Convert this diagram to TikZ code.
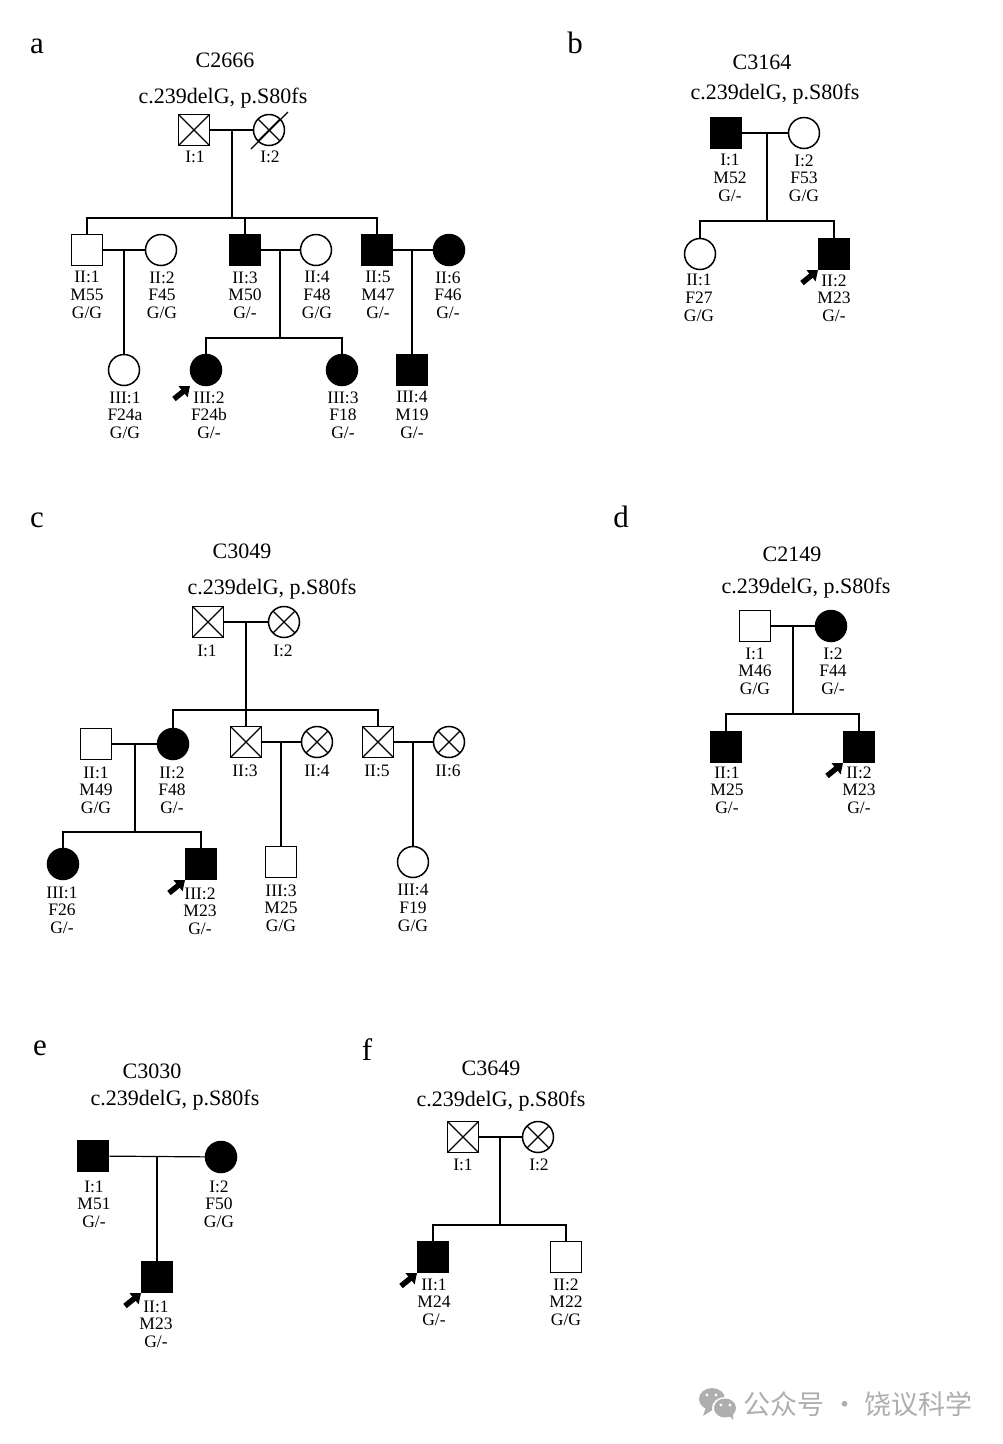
\documentclass[tikz,border=0pt]{standalone}
\usepackage{fontspec}
\setmainfont{Liberation Serif}
\newfontfamily\cjk{Noto Sans CJK SC}
\usepackage{xcolor}
\usepackage{tikz}
\usetikzlibrary{arrows.meta}
\definecolor{markgray}{HTML}{AEAEAE}
\tikzset{
  male/.style={draw,rectangle,line width=1.8pt,minimum size=31pt,inner sep=0pt},
  female/.style={draw,circle,line width=1.5pt,minimum size=31pt,inner sep=0pt},
  maleA/.style={male,fill=black},
  femaleA/.style={female,fill=black},
  crossed/.style={path picture={
    \draw[line width=1.1pt] (path picture bounding box.north west) -- (path picture bounding box.south east);
    \draw[line width=1.1pt] (path picture bounding box.south west) -- (path picture bounding box.north east);}},
  maleX/.style={male,crossed},
  femaleX/.style={female,crossed},
  link/.style={line width=1.2pt},
  proband/.style={-{Triangle[length=9pt,width=14pt]},line width=5.5pt},
  lbl/.style={align=center,inner sep=0pt,font=\fontsize{17.5}{17.7}\selectfont},
  ttl/.style={inner sep=0pt,font=\fontsize{22}{24}\selectfont},
  panel/.style={inner sep=0pt,font=\fontsize{31}{34}\selectfont}
}
\begin{document}
\begin{tikzpicture}[x=1pt,y=-1pt]
\useasboundingbox (0,0) rectangle (1002,1444);

% symbols
\foreach \n/\s/\x/\y in {a11/maleX/194/130,a12/femaleX/269/130,
    a21/male/87/250,a22/female/161/250,a23/maleA/245/250,a24/female/316/250,a25/maleA/377/250,a26/femaleA/449/250,
    a31/female/124/370,a32/femaleA/206/370,a33/femaleA/342/370,a34/maleA/412/370,
    b11/maleA/726/133,b12/female/804/133,b21/female/700/254,b22/maleA/834/254,
    c11/maleX/208/622,c12/femaleX/284/622,
    c21/male/96/744,c22/femaleA/173/744,c23/maleX/246/742,c24/femaleX/317/742,c25/maleX/378/742,c26/femaleX/449/742,
    c31/femaleA/63/864,c32/maleA/201/864,c33/male/281/862,c34/female/413/862,
    d11/male/755/626,d12/femaleA/831/626,d21/maleA/726/747,d22/maleA/859/747,
    e11/maleA/93/1156,e12/femaleA/221/1157,e21/maleA/157/1277,
    f11/maleX/463/1137,f12/femaleX/538/1137,f21/maleA/433/1257,f22/male/566/1257}
  \node[\s] (\n) at (\x,\y) {};

% couples
\foreach \u/\v in {a11/a12,a21/a22,a23/a24,a25/a26,b11/b12,c11/c12,c21/c22,c23/c24,c25/c26,d11/d12,e11/e12,f11/f12}
  \draw[link] (\u) -- (\v);

% points on the couple lines and on the sibship lines
\foreach \n/\x/\y in {a1m/232/130,a1s/232/218,a2m/280/250,a2s/280/338,a3m/124/250,a4m/412/250,
    b1m/767/133,b1s/767/221,
    c1m/246/622,c1s/246/710,c2m/135/744,c2s/135/832,c3m/281/742,c4m/413/742,
    d1m/793/626,d1s/793/714,
    e1m/157/1156,
    f1m/500/1137,f1s/500/1225}
  \coordinate (\n) at (\x,\y);

\foreach \u/\v in {a1m/a1s,a2m/a2s,b1m/b1s,c1m/c1s,c2m/c2s,d1m/d1s,f1m/f1s}
  \draw[link] (\u) -- (\v);

% sibship lines
\foreach \u/\s/\v in {a21/a1s/a25,a32/a2s/a33,b21/b1s/b22,c22/c1s/c25,c31/c2s/c32,d21/d1s/d22,f21/f1s/f22}
  \draw[link] (\u.north) |- (\s) -| (\v.north);
\draw[link] (a23.north) -- (a23.north |- a1s);
\draw[link] (c23.north) -- (c23.north |- c1s);

% only child
\foreach \u/\v in {a3m/a31,a4m/a34,c3m/c33,c4m/c34,e1m/e21}
  \draw[link] (\u) -- (\v.north);

% deceased
\draw[line width=1.1pt] ([shift={(-18,19)}]a12.center) -- ([shift={(19,-18)}]a12.center);

% proband arrows
\foreach \n in {a32,b22,c32,d22,e21,f21}
  \draw[proband] ([shift={(-32,29)}]\n.center) -- ([shift={(-16,16)}]\n.center);

% panel letters, family and variant
\foreach \n/\x/\y in {a/37/46,b/575/43,c/37/520,d/621/517,e/40/1048,f/367/1050}
  \node[panel] (p\n) at (\x,\y) {\n};
\foreach \n/\x/\y/\t in {a/225/60/C2666,b/762/62/C3164,c/242/551/C3049,d/792/554/C2149,e/152/1071/C3030,f/491/1068/C3649}
  \node[ttl] (t\n) at (\x,\y) {\t};
\foreach \n/\x/\y in {a/223/98,b/775/94,c/272/589,d/806/588,e/175/1100,f/501/1101}
  \node[ttl] (v\n) at (\x,\y) {c.239delG, p.S80fs};

% labels
\foreach \n/\x/\y/\t in {
    a11/195/157/{I:1},a12/270/157/{I:2},
    a21/87/295/{II:1\\M55\\G/G},a22/162/295/{II:2\\F45\\G/G},a23/245/295/{II:3\\M50\\G/-},
    a24/317/295/{II:4\\F48\\G/G},a25/378/295/{II:5\\M47\\G/-},a26/448/295/{II:6\\F46\\G/-},
    a31/125/415/{III:1\\F24a\\G/G},a32/209/415/{III:2\\F24b\\G/-},a33/343/415/{III:3\\F18\\G/-},a34/412/415/{III:4\\M19\\G/-},
    b11/730/178/{I:1\\M52\\G/-},b12/804/178/{I:2\\F53\\G/G},b21/699/298/{II:1\\F27\\G/G},b22/834/298/{II:2\\M23\\G/-},
    c11/207/651/{I:1},c12/283/651/{I:2},
    c21/96/790/{II:1\\M49\\G/G},c22/172/790/{II:2\\F48\\G/-},c23/245/771/{II:3},c24/317/771/{II:4},c25/377/771/{II:5},c26/448/771/{II:6},
    c31/62/910/{III:1\\F26\\G/-},c32/200/911/{III:2\\M23\\G/-},c33/281/908/{III:3\\M25\\G/G},c34/413/908/{III:4\\F19\\G/G},
    d11/755/671/{I:1\\M46\\G/G},d12/833/671/{I:2\\F44\\G/-},d21/727/790/{II:1\\M25\\G/-},d22/859/790/{II:2\\M23\\G/-},
    e11/94/1204/{I:1\\M51\\G/-},e12/219/1204/{I:2\\F50\\G/G},e21/156/1324/{II:1\\M23\\G/-},
    f11/463/1165/{I:1},f12/539/1165/{I:2},f21/434/1302/{II:1\\M24\\G/-},f22/566/1302/{II:2\\M22\\G/G}}
  \node[lbl] (l\n) at (\x,\y) {\t};

% mark at the bottom
\fill[markgray] (712,1399) ellipse (13 and 11);
\fill[markgray] (706,1407) -- (703,1416) -- (714,1409) -- cycle;
\fill[white] (725,1408) ellipse (13 and 11);
\fill[markgray] (725,1408) ellipse (11 and 9.5);
\fill[markgray] (729,1415) -- (733,1420) -- (733,1413) -- cycle;
\foreach \x/\y in {707/1395,716/1395,721/1405,730/1405}
  \fill[white] (\x,\y) circle (1.7);
\node[inner sep=0pt,text=markgray,font=\cjk\fontsize{27}{30}\selectfont] (mark) at (858,1404) {公众号 · 饶议科学};
\end{tikzpicture}
\end{document}
